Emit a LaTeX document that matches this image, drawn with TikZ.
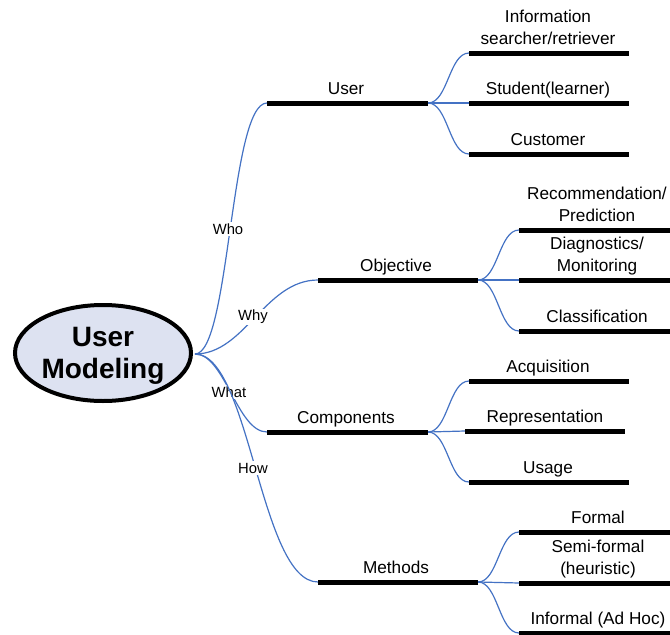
\documentclass[tikz,border=0pt]{standalone}
\usepackage{fontspec}
\setmainfont{Liberation Sans}
\usetikzlibrary{shapes.geometric}
\definecolor{conn}{HTML}{4472C4}
\definecolor{hubfill}{HTML}{DDE2F1}
\tikzset{
  bar/.style={line width=5pt, black},
  link/.style={conn, line width=1.2pt},
  lbl/.style={anchor=south, inner sep=0pt, text depth=0pt, align=center, font=\fontsize{17.2}{22}\selectfont},
  qlbl/.style={fill=white, inner sep=1.5pt, font=\fontsize{14.8}{16}\selectfont},
  hubnode/.style={ellipse, draw=black, line width=4pt, fill=hubfill, inner sep=0pt,
    minimum width=176pt, minimum height=96pt, align=center, text depth=0pt,
    font=\fontsize{28}{32}\selectfont\bfseries}
}
\begin{document}
\begin{tikzpicture}[x=1pt,y=-1pt]
\clip (0,0) rectangle (670,635);
\fill[white] (0,0) rectangle (670,635);

% main bar coordinates
\coordinate (uS) at (267,103); \coordinate (uE) at (428,103);
\coordinate (oS) at (318,280); \coordinate (oE) at (478,280);
\coordinate (cS) at (267,432); \coordinate (cE) at (428,432);
\coordinate (mS) at (318,582); \coordinate (mE) at (478,582);
% leaf bars
\coordinate (u1S) at (469,53);  \coordinate (u1E) at (629,53);
\coordinate (u2S) at (469,103); \coordinate (u2E) at (629,103);
\coordinate (u3S) at (469,154); \coordinate (u3E) at (629,154);
\coordinate (o1S) at (519,230); \coordinate (o1E) at (674,230);
\coordinate (o2S) at (519,280); \coordinate (o2E) at (674,280);
\coordinate (o3S) at (519,331); \coordinate (o3E) at (674,331);
\coordinate (c1S) at (469,381); \coordinate (c1E) at (629,381);
\coordinate (c2S) at (465,431); \coordinate (c2E) at (625,431);
\coordinate (c3S) at (469,482); \coordinate (c3E) at (629,482);
\coordinate (m1S) at (519,532); \coordinate (m1E) at (674,532);
\coordinate (m2S) at (519,583); \coordinate (m2E) at (674,583);
\coordinate (m3S) at (519,633); \coordinate (m3E) at (674,633);

\coordinate (h) at (195,354);

% connectors from hub
\draw[link] (h) .. controls +(35,0) and +(-37,0) .. (uS);
\draw[link] (h) .. controls +(50,0) and +(-53,0) .. (oS);
\draw[link] (h) .. controls +(30,0) and +(-30,0) .. (cS);
\node[qlbl] (who) at (228,229) {Who};
\node[qlbl] (why) at (253,317) {Why};
\node[qlbl] (what) at (229,392) {What};
\draw[link] (h) .. controls +(55,0) and +(-58,0) .. (mS);
\node[qlbl] (how) at (253,468) {How};

% forks
\draw[link] (uE) .. controls +(20,0) and +(-20,0) .. (u1S);
\draw[link] (uE) -- (u2S);
\draw[link] (uE) .. controls +(20,0) and +(-20,0) .. (u3S);
\draw[link] (oE) .. controls +(20,0) and +(-20,0) .. (o1S);
\draw[link] (oE) -- (o2S);
\draw[link] (oE) .. controls +(20,0) and +(-20,0) .. (o3S);
\draw[link] (cE) .. controls +(20,0) and +(-20,0) .. (c1S);
\draw[link] (cE) -- (c2S);
\draw[link] (cE) .. controls +(20,0) and +(-20,0) .. (c3S);
\draw[link] (mE) .. controls +(20,0) and +(-20,0) .. (m1S);
\draw[link] (mE) -- (m2S);
\draw[link] (mE) .. controls +(20,0) and +(-20,0) .. (m3S);

% bars
\draw[bar] (uS) -- (uE);
\draw[bar] (oS) -- (oE);
\draw[bar] (cS) -- (cE);
\draw[bar] (mS) -- (mE);
\foreach \b in {u1,u2,u3,o1,o2,o3,c1,c2,c3,m1,m2,m3}{\draw[bar] (\b S) -- (\b E);}

% hub
\node[hubnode] (um) at (103,353) {User\\Modeling};

% labels
\node[lbl] (lu) at (346,95) {User};
\node[lbl] (lo) at (396,272) {Objective};
\node[lbl] (lc) at (346,424) {Components};
\node[lbl] (lm) at (396,574) {Methods};

\node[lbl] (lu1) at (548,45) {Information\\searcher/retriever};
\node[lbl] (lu2) at (548,95) {Student(learner)};
\node[lbl] (lu3) at (548,146) {Customer};
\node[lbl] (lo1) at (597,222) {Recommendation/\\Prediction};
\node[lbl] (lo2) at (597,272) {Diagnostics/\\Monitoring};
\node[lbl] (lo3) at (597,323) {Classification};
\node[lbl] (lc1) at (548,373) {Acquisition};
\node[lbl] (lc2) at (545,423) {Representation};
\node[lbl] (lc3) at (548,474) {Usage};
\node[lbl] (lm1) at (598,524) {Formal};
\node[lbl] (lm2) at (598,575) {Semi-formal\\(heuristic)};
\node[lbl] (lm3) at (598,625) {Informal (Ad Hoc)};
\end{tikzpicture}
\end{document}
